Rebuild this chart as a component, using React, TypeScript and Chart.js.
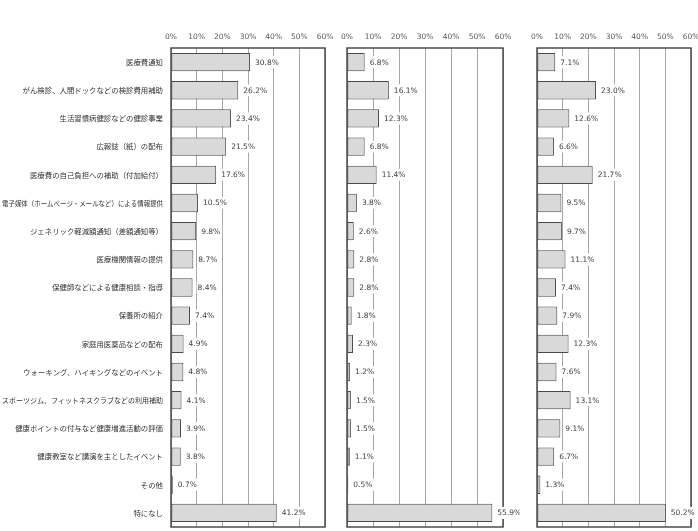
import React, { useEffect, useRef } from "react";
import { Chart, registerables } from "chart.js";

Chart.register(...registerables);

const categories: string[] = [
  "医療費通知",
  "がん検診、人間ドックなどの検診費用補助",
  "生活習慣病健診などの健診事業",
  "広報誌（紙）の配布",
  "医療費の自己負担への補助（付加給付）",
  "電子媒体（ホームページ・メールなど）による情報提供",
  "ジェネリック軽減額通知（差額通知等）",
  "医療機関情報の提供",
  "保健師などによる健康相談・指導",
  "保養所の紹介",
  "家庭用医薬品などの配布",
  "ウォーキング、ハイキングなどのイベント",
  "スポーツジム、フィットネスクラブなどの利用補助",
  "健康ポイントの付与など健康増進活動の評価",
  "健康教室など講演を主としたイベント",
  "その他",
  "特になし",
];

const seriesA: number[] = [30.8, 26.2, 23.4, 21.5, 17.6, 10.5, 9.8, 8.7, 8.4, 7.4, 4.9, 4.8, 4.1, 3.9, 3.8, 0.7, 41.2];
const seriesB: number[] = [6.8, 16.1, 12.3, 6.8, 11.4, 3.8, 2.6, 2.8, 2.8, 1.8, 2.3, 1.2, 1.5, 1.5, 1.1, 0.5, 55.9];
const seriesC: number[] = [7.1, 23.0, 12.6, 6.6, 21.7, 9.5, 9.7, 11.1, 7.4, 7.9, 12.3, 7.6, 13.1, 9.1, 6.7, 1.3, 50.2];

const tickValues: number[] = [0, 10, 20, 30, 40, 50, 60];

const NUM_FONT = '"DejaVu Sans", Verdana, sans-serif';
const JP_FONT = '"Noto Sans CJK JP", sans-serif';
const CANVAS_H = 531;

type PanelProps = {
  values: number[];
  left: number;
  width: number;
  padLeft: number;
  padRight: number;
  showCategories: boolean;
};

function Panel({ values, left, width, padLeft, padRight, showCategories }: PanelProps) {
  const ref = useRef<HTMLCanvasElement>(null);

  useEffect(() => {
    if (!ref.current) return;
    const decor = {
      id: "decor",
      afterDraw(chart: any) {
        const { ctx, chartArea: a, scales } = chart;
        const xs = scales.x;
        const ys = scales.y;
        ctx.save();
        ctx.strokeStyle = "#404040";
        ctx.lineWidth = 1.4;
        ctx.strokeRect(a.left, a.top, a.right - a.left, a.bottom - a.top);

        ctx.font = `7.5px ${NUM_FONT}`;
        ctx.textBaseline = "middle";
        ctx.textAlign = "left";
        values.forEach((v, i) => {
          const bx = xs.getPixelForValue(v) + 5;
          const by = ys.getPixelForValue(i);
          const txt = v.toFixed(1) + "%";
          const w = ctx.measureText(txt).width;
          ctx.fillStyle = "#ffffff";
          ctx.fillRect(bx - 1, by - 6, w + 3, 12);
          ctx.fillStyle = "#404040";
          ctx.fillText(txt, bx, by + 0.5);
        });

        if (showCategories) {
          ctx.font = `7.4px ${JP_FONT}`;
          ctx.textAlign = "right";
          ctx.fillStyle = "#333333";
          categories.forEach((c, i) => {
            ctx.fillText(c, a.left - 8, ys.getPixelForValue(i), a.left - 10);
          });
        }
        ctx.restore();
      },
    };

    const chart = new Chart(ref.current, {
      type: "bar",
      data: {
        labels: categories,
        datasets: [
          {
            data: values,
            backgroundColor: "#d9d9d9",
            borderColor: "#4a4a4a",
            borderWidth: 1,
            borderSkipped: false,
            barPercentage: 0.65,
            categoryPercentage: 1,
          },
        ],
      },
      options: {
        indexAxis: "y",
        animation: false,
        responsive: false,
        maintainAspectRatio: false,
        layout: { padding: { left: padLeft, right: padRight, top: 0, bottom: 4 } },
        plugins: { legend: { display: false }, tooltip: { enabled: false } },
        scales: {
          x: {
            position: "top",
            min: 0,
            max: 60,
            afterBuildTicks: (s: any) => {
              s.ticks = tickValues.map((v) => ({ value: v }));
            },
            ticks: {
              callback: (v: any) => v + "%",
              font: { family: NUM_FONT, size: 7.5 },
              color: "#595959",
              padding: 6,
              maxRotation: 0,
              autoSkip: false,
            },
            grid: { color: "#a6a6a6", tickLength: 0, lineWidth: 1 },
            border: { display: false },
            afterFit: (s: any) => {
              s.height = 48;
              s.paddingLeft = 0;
              s.paddingRight = 0;
            },
          },
          y: { display: false },
        },
      } as any,
      plugins: [decor],
    });
    return () => chart.destroy();
  }, [values, left, width, padLeft, padRight, showCategories]);

  return (
    <canvas
      ref={ref}
      width={width}
      height={CANVAS_H}
      style={{ position: "absolute", left, top: 0, width, height: CANVAS_H }}
    />
  );
}

export default function App() {
  return (
    <div style={{ position: "absolute", left: 0, top: 0, width: 698, height: 531, background: "#fff", overflow: "hidden" }}>
      <Panel values={seriesA} left={0} width={336} padLeft={171} padRight={11} showCategories={true} />
      <Panel values={seriesB} left={336} width={184} padLeft={11} padRight={17} showCategories={false} />
      <Panel values={seriesC} left={520} width={178} padLeft={17} padRight={7} showCategories={false} />
    </div>
  );
}
